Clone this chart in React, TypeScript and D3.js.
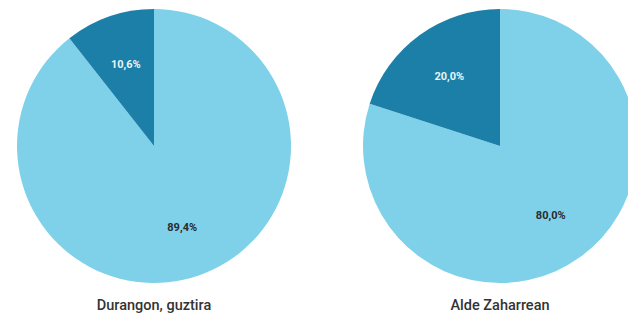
import React from 'react';
import * as d3 from 'd3';

const titles = ['Durangon, guztira', 'Alde Zaharrean'];
const restValues = [89.4, 80.0];
const slice2Values = [10.6, 20.0];
const centersX = [154, 500];

const colors = ['#7fd1ea', '#1b7fa7'];
const labelColors = ['#2b2b2b', '#e8f4f8'];

const W = 628;
const H = 316;
const R = 137;
const CY = 146;

const fmt = (v: number) => v.toFixed(1).replace('.', ',') + '%';

const App = () => {
  const pie = d3.pie<number>().sort(null).value((d) => d);
  const arc = d3.arc<d3.PieArcDatum<number>>().innerRadius(0).outerRadius(R);
  const labelArc = d3.arc<d3.PieArcDatum<number>>().innerRadius(R * 0.63).outerRadius(R * 0.63);

  return (
    <svg width={W} height={H} style={{ position: 'absolute', left: 0, top: 0, background: '#fff' }}>
      {titles.map((t, i) => {
        const arcs = pie([restValues[i], slice2Values[i]]);
        return (
          <g key={t}>
            <g transform={`translate(${centersX[i]},${CY})`}>
              {arcs.map((a, j) => (
                <path key={j} d={arc(a) || ''} fill={colors[j]} />
              ))}
              {arcs.map((a, j) => {
                const [lx, ly] = labelArc.centroid(a);
                return (
                  <text
                    key={'l' + j}
                    x={lx}
                    y={ly}
                    textAnchor="middle"
                    dominantBaseline="central"
                    fontFamily="Roboto, sans-serif"
                    fontWeight="bold"
                    fontSize={11}
                    fill={labelColors[j]}
                  >
                    {fmt(a.data)}
                  </text>
                );
              })}
            </g>
            <text
              x={centersX[i]}
              y={305}
              textAnchor="middle"
              dominantBaseline="central"
              fontFamily="Roboto, sans-serif"
              fontWeight={500}
              fontSize={14.5}
              fill="#333"
            >
              {t}
            </text>
          </g>
        );
      })}
    </svg>
  );
};

export default App;
